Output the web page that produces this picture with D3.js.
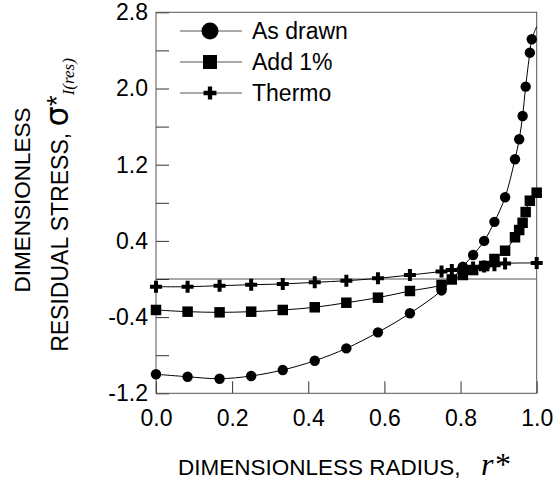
<!DOCTYPE html>
<html lang="en">
<head>
<meta charset="UTF-8">
<title>Dimensionless residual stress</title>
<script src="https://d3js.org/d3.v7.min.js"></script>
<style>
    body { margin: 0; background: #fff; }
    text { font-family: "Liberation Sans", Arial, sans-serif; fill: #000; }
    .tick text { font-size: 23px; }
    .frame { fill: none; stroke: #555; stroke-width: 1; }
    .curve { fill: none; stroke: #000; stroke-width: 1; }
</style>
</head>
<body>
<div id="chart"></div>
<script>
    // radius positions of the markers
    const rCoarse = [0, 0.083, 0.167, 0.25, 0.333, 0.417, 0.5, 0.583, 0.667, 0.75];

    const asDrawnR = rCoarse.concat([0.806, 0.833, 0.862, 0.889, 0.917, 0.943, 0.954, 0.963, 0.971, 0.982, 0.987]);
    const asDrawnV = [-1.00, -1.026, -1.047, -1.018, -0.955, -0.858, -0.728, -0.56, -0.36, -0.12,
                      0.13, 0.252, 0.40, 0.60, 0.858, 1.257, 1.467, 1.711, 2.02, 2.376, 2.517];
    const asDrawnEnd = [1.0, 2.65];   // where the fitted curve leaves the frame

    const add1R = rCoarse.concat([0.777, 0.806, 0.833, 0.862, 0.889, 0.917, 0.943, 0.954, 0.963, 0.971, 0.982, 1.0]);
    const add1V = [-0.325, -0.343, -0.35, -0.343, -0.325, -0.297, -0.249, -0.196, -0.126, -0.063,
                   -0.005, 0.042, 0.094, 0.136, 0.21, 0.297, 0.438, 0.514, 0.59, 0.703, 0.822, 0.906];

    const thermoR = rCoarse.concat([0.777, 0.806, 0.833, 0.862, 0.889, 0.917, 1.0]);
    const thermoV = [-0.081, -0.081, -0.07, -0.06, -0.052, -0.035, -0.018, 0.007, 0.042, 0.079,
                     0.094, 0.105, 0.12, 0.131, 0.144, 0.163, 0.168];

    const seriesNames = ["As drawn", "Add 1%", "Thermo"];
    const xTicks = [0, 0.2, 0.4, 0.6, 0.8, 1.0];
    const yTicks = [-1.2, -0.8, -0.4, 0, 0.4, 0.8, 1.2, 1.6, 2.0, 2.4, 2.8];
    const yLabelled = [-1.2, -0.4, 0.4, 1.2, 2.0, 2.8];

    const W = 553, H = 486;
    const plotLeft = 156, plotRight = 536.7, plotTop = 12.3, plotBottom = 393.3;

    const svg = d3.select("#chart").append("svg")
        .attr("width", W)
        .attr("height", H);

    const x = d3.scaleLinear().domain([0, 1]).range([plotLeft, plotRight]);
    const y = d3.scaleLinear().domain([-1.2, 2.8]).range([plotBottom, plotTop]);

    const zip = (rs, vs) => rs.map((r, i) => ({ r: r, v: vs[i] }));
    const asDrawn = zip(asDrawnR, asDrawnV);
    const add1 = zip(add1R, add1V);
    const thermo = zip(thermoR, thermoV);

    // plain hyphen for negatives, like the original
    const fmt = d => d3.format(".1f")(d).replace("\u2212", "-");

    // zero line
    svg.append("line")
        .attr("x1", x(0)).attr("x2", x(1))
        .attr("y1", y(0)).attr("y2", y(0))
        .attr("stroke", "#555").attr("stroke-width", 1);

    // axes, ticks pointing inward
    const yAxis = d3.axisLeft(y)
        .tickValues(yTicks)
        .tickSize(-13)
        .tickPadding(8)
        .tickFormat(d => yLabelled.some(v => Math.abs(v - d) < 1e-9) ? fmt(d) : "");
    const gy = svg.append("g").attr("transform", "translate(" + plotLeft + ",0)").call(yAxis);
    gy.select(".domain").remove();
    gy.selectAll(".tick line").attr("stroke", "#333");

    const xAxis = d3.axisBottom(x)
        .tickValues(xTicks)
        .tickSize(-12)
        .tickPadding(16)
        .tickFormat(fmt);
    const gx = svg.append("g").attr("transform", "translate(0," + plotBottom + ")").call(xAxis);
    gx.select(".domain").remove();
    gx.selectAll(".tick line").attr("stroke", "#333");

    svg.append("rect")
        .attr("class", "frame")
        .attr("x", plotLeft).attr("y", plotTop)
        .attr("width", plotRight - plotLeft).attr("height", plotBottom - plotTop);

    // curves
    const line = d3.line()
        .x(d => x(d.r))
        .y(d => y(d.v))
        .curve(d3.curveCatmullRom.alpha(0.5));

    svg.append("path").attr("class", "curve")
        .attr("d", line(asDrawn.concat([{ r: asDrawnEnd[0], v: asDrawnEnd[1] }])));
    svg.append("path").attr("class", "curve").attr("d", line(add1));
    svg.append("path").attr("class", "curve").attr("d", line(thermo));

    // markers
    const circleSym = d3.symbol().type(d3.symbolCircle).size(Math.PI * 5.2 * 5.2);
    const squareSym = d3.symbol().type(d3.symbolSquare).size(10.5 * 10.5);
    const crossSym = d3.symbol().type(d3.symbolCross).size(5 * 4 * 4);

    function drawMarkers(data, sym) {
        svg.append("g").selectAll("path")
            .data(data)
            .enter().append("path")
            .attr("d", sym)
            .attr("transform", d => "translate(" + x(d.r) + "," + y(d.v) + ")")
            .attr("fill", "#000");
    }
    drawMarkers(asDrawn, circleSym);
    drawMarkers(add1, squareSym);
    drawMarkers(thermo, crossSym);

    // legend
    const legendSyms = [
        d3.symbol().type(d3.symbolCircle).size(Math.PI * 8.5 * 8.5),
        d3.symbol().type(d3.symbolSquare).size(14 * 14),
        d3.symbol().type(d3.symbolCross).size(5 * 4.3 * 4.3)
    ];
    const legend = svg.append("g");
    seriesNames.forEach((name, i) => {
        const ly = 31 + i * 31;
        legend.append("line")
            .attr("x1", 180).attr("x2", 242)
            .attr("y1", ly).attr("y2", ly)
            .attr("stroke", "#555").attr("stroke-width", 1);
        legend.append("path")
            .attr("d", legendSyms[i])
            .attr("transform", "translate(210," + ly + ")")
            .attr("fill", "#000");
        legend.append("text")
            .attr("x", 252).attr("y", ly + 8)
            .style("font-size", "23px")
            .text(name);
    });

    // axis titles
    svg.append("text")
        .attr("x", 178).attr("y", 475)
        .style("font-size", "22.5px")
        .text("DIMENSIONLESS RADIUS,");
    svg.append("text")
        .attr("x", 481).attr("y", 475)
        .style("font-family", "'Liberation Serif', 'Times New Roman', serif")
        .style("font-style", "italic")
        .style("font-size", "32px")
        .text("r*");

    svg.append("text")
        .attr("transform", "translate(30,200) rotate(-90)")
        .attr("text-anchor", "middle")
        .style("font-size", "22.5px")
        .text("DIMENSIONLESS");

    const t2 = svg.append("text")
        .attr("transform", "translate(68,205) rotate(-90)")
        .attr("text-anchor", "middle")
        .style("font-size", "23px");
    t2.append("tspan").text("RESIDUAL STRESS, ");
    t2.append("tspan").style("font-size", "32px").style("font-family", "'DejaVu Sans', sans-serif").text("σ");
    t2.append("tspan").style("font-size", "28px").attr("dy", -2).text("*");
    t2.append("tspan")
        .style("font-family", "'Liberation Serif', 'Times New Roman', serif")
        .style("font-style", "italic")
        .style("font-size", "17px")
        .attr("dy", 8)
        .text("I(res)");
</script>
</body>
</html>
